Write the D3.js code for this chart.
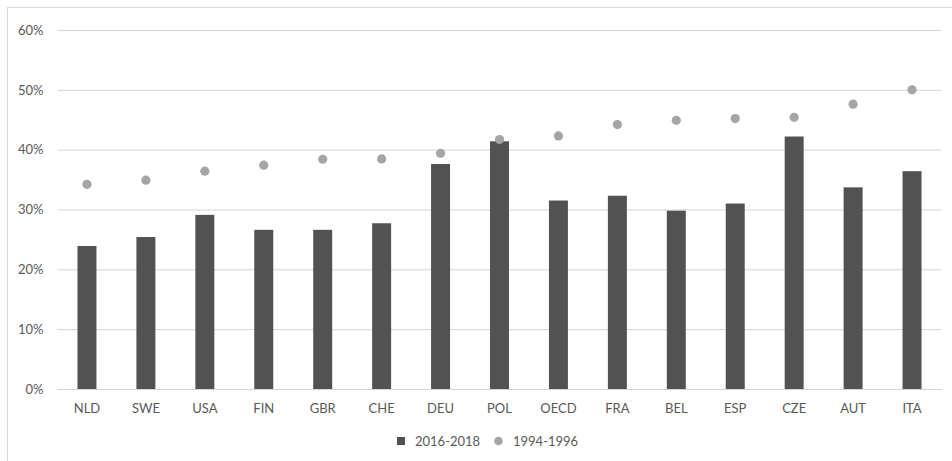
<!DOCTYPE html>
<html>
<head>
<meta charset="utf-8">
<script src="https://cdn.jsdelivr.net/npm/d3@7/dist/d3.min.js"></script>
<style>
  html, body { margin: 0; padding: 0; background: #ffffff; }
  svg { display: block; }
  text { font-family: Lato, "Open Sans", sans-serif; fill: #595959; }
</style>
</head>
<body>
<svg id="chart" width="952" height="461"></svg>
<script>
// Country codes along the x axis
const categories = ["NLD", "SWE", "USA", "FIN", "GBR", "CHE", "DEU", "POL", "OECD", "FRA", "BEL", "ESP", "CZE", "AUT", "ITA"];
// Share for 2016-2018 (bars), in percent
const recent = [23.9, 25.4, 29.1, 26.6, 26.6, 27.7, 37.6, 41.4, 31.5, 32.3, 29.8, 31.0, 42.2, 33.7, 36.4];
// Share for 1994-1996 (dots), in percent
const earlier = [34.2, 34.9, 36.4, 37.4, 38.4, 38.45, 39.4, 41.7, 42.3, 44.2, 44.9, 45.2, 45.4, 47.6, 50.0];
// Y axis tick values
const yTicks = [0, 10, 20, 30, 40, 50, 60];
const seriesNames = ["2016-2018", "1994-1996"];

const barColor = "#525252";
const dotColor = "#a5a5a5";
const gridColor = "#d4d4d4";

const svg = d3.select("#chart");

// outer frame
svg.append("rect")
  .attr("x", 7.5).attr("y", 7.5)
  .attr("width", 952).attr("height", 470)
  .attr("fill", "none").attr("stroke", "#d9d9d9").attr("stroke-width", 1);

const plot = { left: 57.5, right: 941.5, top: 30, bottom: 389 };

const x = d3.scaleBand()
  .domain(categories)
  .range([plot.left, plot.right])
  .paddingInner(0.678)
  .paddingOuter(0.339);

const y = d3.scaleLinear()
  .domain([0, 60])
  .range([plot.bottom, plot.top]);

// gridlines and y labels
const yAxis = d3.axisLeft(y)
  .tickValues(yTicks)
  .tickSize(-(plot.right - plot.left))
  .tickPadding(14)
  .tickFormat(d => d + "%");

const gy = svg.append("g")
  .attr("transform", `translate(${plot.left},0)`)
  .call(yAxis);
gy.select(".domain").remove();
gy.selectAll(".tick line").attr("stroke", gridColor).attr("stroke-width", 1);
gy.selectAll(".tick text")
  .attr("fill", "#595959")
  .style("font-size", "13px");

// bars
svg.append("g").selectAll("rect")
  .data(categories)
  .join("rect")
  .attr("x", d => x(d))
  .attr("width", x.bandwidth())
  .attr("y", (d, i) => y(recent[i]))
  .attr("height", (d, i) => y(0) - y(recent[i]))
  .attr("fill", barColor);

// baseline over bars
svg.append("line")
  .attr("x1", plot.left).attr("x2", plot.right)
  .attr("y1", y(0) + 0.5).attr("y2", y(0) + 0.5)
  .attr("stroke", gridColor).attr("stroke-width", 1);

// dots
svg.append("g").selectAll("circle")
  .data(categories)
  .join("circle")
  .attr("cx", d => x(d) + x.bandwidth() / 2)
  .attr("cy", (d, i) => y(earlier[i]))
  .attr("r", 4.6)
  .attr("fill", dotColor);

// x axis labels
const xAxis = d3.axisBottom(x).tickSize(0).tickPadding(15);
const gx = svg.append("g")
  .attr("transform", `translate(0,${plot.bottom})`)
  .call(xAxis);
gx.select(".domain").remove();
gx.selectAll(".tick text")
  .attr("fill", "#595959")
  .style("font-size", "13px");

// legend
const legend = svg.append("g").attr("transform", "translate(0,441)");
legend.append("rect")
  .attr("x", 397).attr("y", -4).attr("width", 8).attr("height", 8)
  .attr("fill", barColor);
legend.append("text")
  .attr("x", 415).attr("y", 0).attr("dy", "0.35em")
  .style("font-size", "13px")
  .text(seriesNames[0]);
legend.append("circle")
  .attr("cx", 498.5).attr("cy", 0).attr("r", 4.3)
  .attr("fill", dotColor);
legend.append("text")
  .attr("x", 513).attr("y", 0).attr("dy", "0.35em")
  .style("font-size", "13px")
  .text(seriesNames[1]);
</script>
</body>
</html>
